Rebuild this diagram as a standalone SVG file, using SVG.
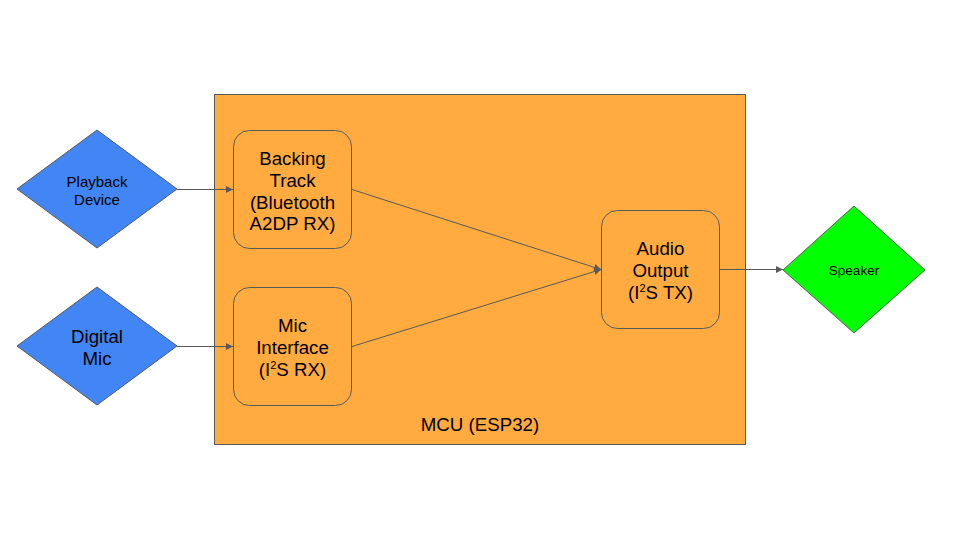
<svg xmlns="http://www.w3.org/2000/svg" width="960" height="540" viewBox="0 0 960 540">
<style>
text{font-family:"Liberation Sans",Arial,sans-serif;fill:#000;text-anchor:middle}
.box{fill:#ffab40;stroke:#595959;stroke-width:1}
.dia{stroke:#595959;stroke-width:1}
.c{fill:none;stroke:#595959;stroke-width:1}
.t16{font-size:18.7px}
.t13{font-size:15px}
.t12{font-size:13.6px}
</style>
<defs>
<marker id="ah" viewBox="0 0 10 10" refX="10" refY="5" markerWidth="7" markerHeight="7" markerUnits="userSpaceOnUse" orient="auto">
<path d="M0,0 L10,5 L0,10 z" fill="#595959"/>
</marker>
</defs>
<rect width="960" height="540" fill="#fff"/>
<g id="mcu">
<rect class="box" x="214.5" y="94.5" width="531" height="350"/>
<text class="t16" x="480" y="431">MCU (ESP32)</text>
</g>
<g id="playback">
<polygon class="dia" fill="#4285f4" points="97,130 177,189 97,248 17,189"/>
<text class="t13" x="97" y="187">Playback</text>
<text class="t13" x="97" y="205">Device</text>
</g>
<g id="digitalmic">
<polygon class="dia" fill="#4285f4" points="97,287 177,346 97,405 17,346"/>
<text class="t16" x="97" y="343">Digital</text>
<text class="t16" x="97" y="365">Mic</text>
</g>
<g id="backing">
<rect class="box" x="233.5" y="130.5" width="118" height="118" rx="16"/>
<text class="t16" x="292.5" y="165">Backing</text>
<text class="t16" x="292.5" y="187">Track</text>
<text class="t16" x="292.5" y="209">(Bluetooth</text>
<text class="t16" x="292.5" y="230">A2DP RX)</text>
</g>
<g id="micif">
<rect class="box" x="233.5" y="287.5" width="118" height="118" rx="16"/>
<text class="t16" x="292.5" y="332">Mic</text>
<text class="t16" x="292.5" y="354">Interface</text>
<text class="t16" x="292.5" y="376">(I<tspan font-size="11" dy="-7">2</tspan><tspan dy="7">S RX)</tspan></text>
</g>
<g id="audioout">
<rect class="box" x="601.5" y="210.5" width="118" height="118" rx="16"/>
<text class="t16" x="660.5" y="255">Audio</text>
<text class="t16" x="660.5" y="277">Output</text>
<text class="t16" x="660.5" y="299">(I<tspan font-size="11" dy="-7">2</tspan><tspan dy="7">S TX)</tspan></text>
</g>
<g id="speaker">
<polygon class="dia" fill="#00ff00" points="854,206 925,270 854,333 783,270"/>
<text class="t12" x="854" y="275">Speaker</text>
</g>
<g id="connectors">
<line class="c" x1="177" y1="189.5" x2="233" y2="189.5" marker-end="url(#ah)"/>
<line class="c" x1="177" y1="346.5" x2="233" y2="346.5" marker-end="url(#ah)"/>
<line class="c" x1="352" y1="189.5" x2="601" y2="269.5" marker-end="url(#ah)"/>
<line class="c" x1="352" y1="346.5" x2="601" y2="269.5" marker-end="url(#ah)"/>
<line class="c" x1="719" y1="269.5" x2="783" y2="269.5" marker-end="url(#ah)"/>
</g>
</svg>
